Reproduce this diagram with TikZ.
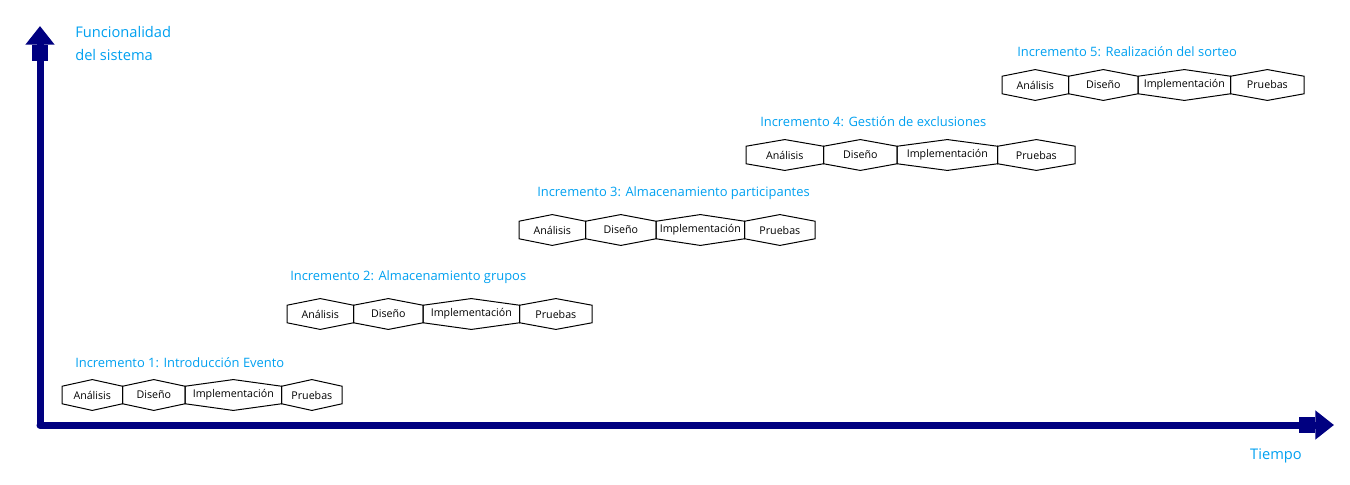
\documentclass[tikz,border=0pt]{standalone}
\usepackage{fontspec}
\setmainfont{Open Sans}
\usetikzlibrary{positioning,arrows.meta}
\definecolor{azul}{RGB}{0,160,240}
\definecolor{marino}{RGB}{0,0,128}

\begin{document}
\begin{tikzpicture}[x=0.75pt,y=-0.75pt]
\tikzstyle{fase}=[inner sep=0pt,minimum height=12.75pt,font=\fontsize{8}{9}\selectfont]
\tikzstyle{titulo}=[anchor=west,inner sep=0pt,text=azul,font=\fontsize{9.7}{11}\selectfont]
\tikzstyle{eje}=[marino,line width=5.25pt,line cap=round,-{Rectangle[length=12pt,width=12.5pt,sep=0pt]Triangle[length=14pt,width=21pt]}]
\useasboundingbox (0,0) rectangle (1350,485);

% ejes
\coordinate (o) at (40,425);
\coordinate (ytop) at (40,26);
\coordinate (xfin) at (1334,425);
\draw[eje] (o) -- (ytop);
\draw[eje] (o) -- (xfin);
\node[titulo,anchor=north west,align=left,font=\fontsize{11}{17}\selectfont] (func) at (75,26) {Funcionalidad\\del sistema};
\node[titulo,anchor=center,font=\fontsize{11}{12}\selectfont] (tiempo) at (1276,456) {Tiempo};

% incremento 1
\node[titulo] (inc1) at (75,363) {Incremento 1: Introducción Evento};
\node[fase,anchor=west,minimum width=45pt] (a1) at (62,395) {Análisis};
\node[fase,minimum width=46.5pt,right=0pt of a1] (d1) {Diseño};
\node[fase,minimum width=72pt,right=0pt of d1] (i1) {Implementación};
\node[fase,minimum width=45pt,right=0pt of i1] (p1) {Pruebas};

% incremento 2
\node[titulo] (inc2) at (290,277) {Incremento 2: Almacenamiento grupos};
\node[fase,anchor=west,minimum width=49.5pt] (a2) at (287,314) {Análisis};
\node[fase,minimum width=51.75pt,right=0pt of a2] (d2) {Diseño};
\node[fase,minimum width=72pt,right=0pt of d2] (i2) {Implementación};
\node[fase,minimum width=54pt,right=0pt of i2] (p2) {Pruebas};

% incremento 3
\node[titulo] (inc3) at (537,193) {Incremento 3: Almacenamiento participantes};
\node[fase,anchor=west,minimum width=49.5pt] (a3) at (519,230) {Análisis};
\node[fase,minimum width=52.5pt,right=0pt of a3] (d3) {Diseño};
\node[fase,minimum width=66pt,right=0pt of d3] (i3) {Implementación};
\node[fase,minimum width=52.5pt,right=0pt of i3] (p3) {Pruebas};

% incremento 4
\node[titulo] (inc4) at (760,122) {Incremento 4: Gestión de exclusiones};
\node[fase,anchor=west,minimum width=57.75pt] (a4) at (746,155) {Análisis};
\node[fase,minimum width=54.75pt,right=0pt of a4] (d4) {Diseño};
\node[fase,minimum width=75pt,right=0pt of d4] (i4) {Implementación};
\node[fase,minimum width=57.75pt,right=0pt of i4] (p4) {Pruebas};

% incremento 5
\node[titulo] (inc5) at (1017,52) {Incremento 5: Realización del sorteo};
\node[fase,anchor=west,minimum width=49.5pt] (a5) at (1002,85) {Análisis};
\node[fase,minimum width=51.75pt,right=0pt of a5] (d5) {Diseño};
\node[fase,minimum width=69pt,right=0pt of d5] (i5) {Implementación};
\node[fase,minimum width=54.75pt,right=0pt of i5] (p5) {Pruebas};

% hexagonos
\foreach \n in {a1,d1,i1,p1,a2,d2,i2,p2,a3,d3,i3,p3,a4,d4,i4,p4,a5,d5,i5,p5}
  \draw[line width=0.75pt] (\n.north west) -- ([yshift=5pt]\n.north) -- (\n.north east)
    -- (\n.south east) -- ([yshift=-5pt]\n.south) -- (\n.south west) -- cycle;
\end{tikzpicture}
\end{document}
